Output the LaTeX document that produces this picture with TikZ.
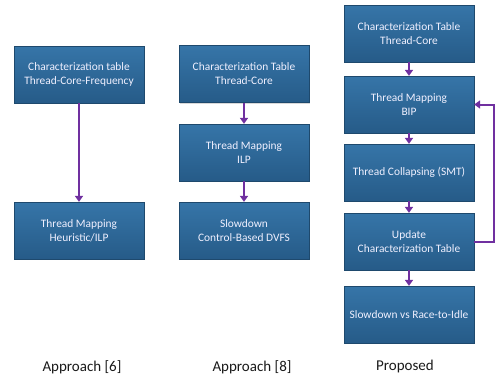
\documentclass[tikz,border=0pt]{standalone}
\usepackage{fontspec}
\setmainfont{Carlito}
\usetikzlibrary{arrows.meta,shadows}
\definecolor{boxtop}{HTML}{3675A8}
\definecolor{boxbot}{HTML}{265B88}
\definecolor{flow}{HTML}{7030A0}
\definecolor{labeltext}{HTML}{1A1A1A}
\tikzset{
  stage/.style={rectangle, minimum width=130pt, minimum height=57pt,
    top color=boxtop, bottom color=boxbot, draw=boxbot!80!black, line width=0.3pt,
    text=white!94!blue, align=center, font=\fontsize{11.4}{14}\selectfont,
    drop shadow={shadow xshift=1.2pt, shadow yshift=-1.2pt, fill=black!30, opacity=0.5},
    inner sep=2pt},
  flowarrow/.style={draw=flow, line width=2pt, -{Triangle[length=6pt,width=8pt]}},
  caption/.style={font=\fontsize{15}{17}\selectfont, text=labeltext},
}
\begin{document}
\begin{tikzpicture}[x=1pt,y=-1pt]
  \useasboundingbox[fill=white] (0,0) rectangle (496,383);

  % Approach [6]
  \node[stage] (a1) at (79,74.5) {Characterization table\\Thread-Core-Frequency};
  \node[stage] (a2) at (79,230.5) {Thread Mapping\\Heuristic/ILP};
  \node[caption] (acap) at (82,367) {Approach [6]};
  \draw[flowarrow] (a1) -- (a2);

  % Approach [8]
  \node[stage] (b1) at (244,74) {Characterization Table\\Thread-Core};
  \node[stage] (b2) at (244,152.5) {Thread Mapping\\ILP};
  \node[stage] (b3) at (244,230.5) {Slowdown\\Control-Based DVFS};
  \node[caption] (bcap) at (252,367) {Approach [8]};
  \draw[flowarrow] (b1) -- (b2);
  \draw[flowarrow] (b2) -- (b3);

  % Proposed
  \node[stage] (p1) at (409,33.5) {Characterization Table\\Thread-Core};
  \node[stage] (p2) at (409,104.5) {Thread Mapping\\BIP};
  \node[stage] (p3) at (409,172.5) {Thread Collapsing (SMT)};
  \node[stage] (p4) at (409,241.5) {Update\\Characterization Table};
  \node[stage] (p5) at (409,314.5) {Slowdown vs Race-to-Idle};
  \node[caption] (pcap) at (405,366) {Proposed};
  \draw[flowarrow] (p1) -- (p2);
  \draw[flowarrow] (p2) -- (p3);
  \draw[flowarrow] (p3) -- (p4);
  \draw[flowarrow] (p4) -- (p5);

  % feedback loop back to the mapping step
  \coordinate (loop) at (494,0);
  \draw[flowarrow] (p4.east) -| (loop |- p2.east) -- (p2.east);
\end{tikzpicture}
\end{document}
